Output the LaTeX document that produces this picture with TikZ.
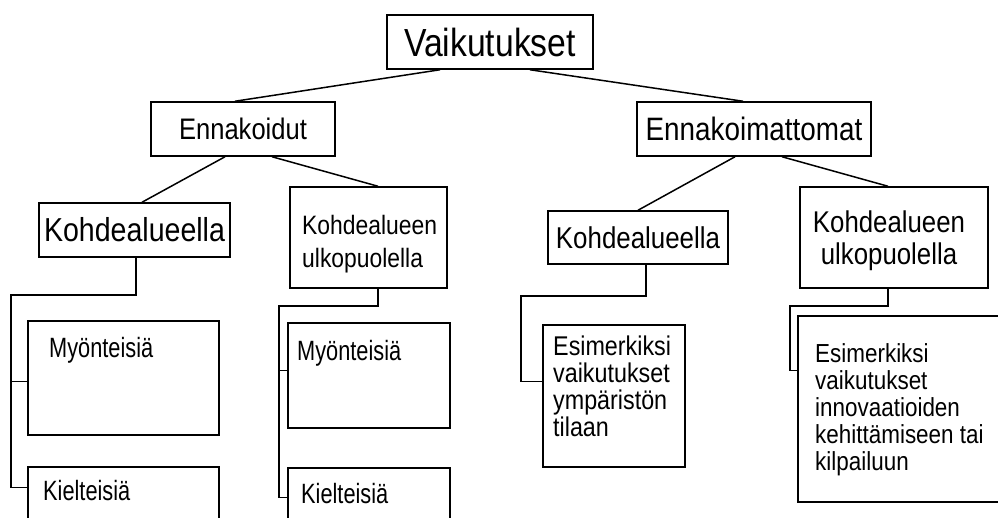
\documentclass[tikz,border=0pt]{standalone}
\usepackage{fontspec}
\setmainfont{Liberation Sans}[FakeStretch=0.86]
\newfontfamily\narrowsans{Liberation Sans}[FakeStretch=0.78]
\begin{document}
\begin{tikzpicture}[x=1pt,y=-1pt,
  box/.style={draw, line width=1.5pt, inner sep=0pt, fill=white},
  link/.style={line width=1.5pt},
  lbl/.style={inner sep=0pt, align=left}]
\path[use as bounding box] (0,0) rectangle (998,517);
\clip (0,0) rectangle (998,517);

% top level and the two main branches
\node[box, minimum width=206pt, minimum height=54pt, font=\fontsize{39.2}{41}\selectfont] (V) at (490,42) {Vaikutukset};
\node[box, minimum width=184pt, minimum height=54pt, font=\fontsize{29.7}{31}\selectfont] (En) at (243,129) {Ennakoidut};
\node[box, minimum width=234pt, minimum height=54pt, font=\fontsize{32.4}{34}\selectfont] (Em) at (754,129) {Ennakoimattomat};

% third level
\node[box, minimum width=191pt, minimum height=54pt, font=\fontsize{33.2}{35}\selectfont] (K1) at (134.5,230) {Kohdealueella};
\node[box, minimum width=157pt, minimum height=101pt] (U1) at (368.5,237.5) {};
\node[box, minimum width=180pt, minimum height=53pt, font=\fontsize{30.1}{32}\selectfont] (K2) at (638,237.5) {Kohdealueella};
\node[box, minimum width=188pt, minimum height=101pt] (U2) at (894,237.5) {};
\node[lbl, anchor=north west, font=\fontsize{26.6}{33}\selectfont] (U1t) at (302,215.5) {Kohdealueen\\ulkopuolella};
\node[lbl, anchor=north, align=center, font=\fontsize{30}{32}\selectfont] (U2t) at (889,211) {Kohdealueen\\ulkopuolella};

% leaf boxes
\node[box, minimum width=191pt, minimum height=114pt] (M1) at (123.5,378) {};
\node[box, minimum width=191pt, minimum height=73pt] (Ki1) at (123.5,503.5) {};
\node[box, minimum width=162pt, minimum height=105pt] (M2) at (369,375.5) {};
\node[box, minimum width=162pt, minimum height=72pt] (Ki2) at (369,504) {};
\node[box, minimum width=142pt, minimum height=142pt] (E1) at (614,396) {};
\node[box, minimum width=212pt, minimum height=186pt] (E2) at (904,409) {};

\node[lbl, anchor=base west, font=\narrowsans\fontsize{27.9}{29}\selectfont] (M1t) at (49,357) {Myönteisiä};
\node[lbl, anchor=base west, font=\narrowsans\fontsize{27.9}{29}\selectfont] (M2t) at (297,360) {Myönteisiä};
\node[lbl, anchor=base west, font=\narrowsans\fontsize{27.9}{29}\selectfont] (Ki1t) at (43,500) {Kielteisiä};
\node[lbl, anchor=base west, font=\narrowsans\fontsize{27.9}{29}\selectfont] (Ki2t) at (301,503) {Kielteisiä};
\node[lbl, anchor=north west, font=\fontsize{27.1}{27}\selectfont] (E1t) at (553,336) {Esimerkiksi\\vaikutukset\\ympäristön\\tilaan};
\node[lbl, anchor=north west, font=\fontsize{26.1}{27}\selectfont] (E2t) at (815,343) {Esimerkiksi\\vaikutukset\\innovaatioiden\\kehittämiseen tai\\kilpailuun};

% straight connectors of the upper tree
\draw[link] ([xshift=-50pt]V.south) -- ([xshift=-8pt]En.north);
\draw[link] ([xshift=40pt]V.south) -- ([xshift=-11pt]Em.north);
\draw[link] ([xshift=-18pt]En.south) -- ([xshift=7.5pt]K1.north);
\draw[link] ([xshift=29pt]En.south) -- ([xshift=9.5pt]U1.north);
\draw[link] ([xshift=-19pt]Em.south) -- (K2.north);
\draw[link] ([xshift=28pt]Em.south) -- ([xshift=-6pt]U2.north);

% elbow connectors to the leaf boxes
\coordinate (r1) at (11,295);
\coordinate (r2) at (279,306);
\coordinate (r3) at (521,296);
\coordinate (r4) at (790,306);
\draw[link] ([xshift=1.5pt]K1.south) |- (r1) |- ([yshift=-21pt]Ki1.north west);
\draw[link] ([yshift=-61pt]M1.north west) -| (r1);
\draw[link] ([xshift=9.5pt]U1.south) |- (r2) |- ([yshift=-30pt]Ki2.north west);
\draw[link] ([yshift=-48pt]M2.north west) -| (r2);
\draw[link] ([xshift=8pt]K2.south) |- (r3) |- ([yshift=-57pt]E1.north west);
\draw[link] ([xshift=-6pt]U2.south) |- (r4) |- ([yshift=-55pt]E2.north west);
\end{tikzpicture}
\end{document}
